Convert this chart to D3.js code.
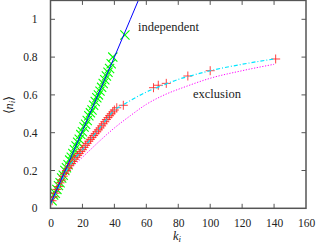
<!DOCTYPE html>
<html><head><meta charset="utf-8">
<script src="https://cdn.jsdelivr.net/npm/d3@7"></script>
<style>body{margin:0;background:#fff}svg{display:block}</style>
</head><body>
<script>
const xTicks=[0,20,40,60,80,100,120,140,160];
const yTicks=[0,0.2,0.4,0.6,0.8,1];
const blueK=[0,10,20,30,40,50,57];
const blueN=[0.025,0.215,0.41,0.605,0.80,1.0,1.14];
const greenK=[1,2,3,4,5,6,7,8,9,10,11,12,13,14,15,16,17,18,19,20,21,22,23,24,25,26,27,28,29,30,31,32,33,34,35,36,37,38,39,46.6];
const greenN=[0.04,0.07,0.08,0.10,0.12,0.135,0.16,0.175,0.20,0.215,0.23,0.255,0.27,0.29,0.31,0.33,0.35,0.365,0.39,0.405,0.43,0.445,0.465,0.49,0.505,0.52,0.545,0.565,0.585,0.60,0.62,0.64,0.66,0.68,0.70,0.72,0.74,0.765,0.80,0.917];
const redK=[1,2,3,4,5,6,7,8,9,10,11,12,13,14,15,16,17,18,19,20,21,22,23,24,25,26,27,28,29,30,31,32,33,34,35,36,37,38,39,40,41.5,45.6,64.5,67.5,72.5,86,100,141];
const redN=[0.04,0.06,0.08,0.10,0.115,0.135,0.15,0.17,0.185,0.20,0.212,0.225,0.237,0.248,0.26,0.27,0.28,0.29,0.30,0.31,0.322,0.333,0.344,0.355,0.365,0.375,0.385,0.395,0.405,0.415,0.425,0.436,0.447,0.458,0.47,0.48,0.49,0.5,0.51,0.52,0.532,0.545,0.638,0.651,0.661,0.70,0.728,0.79];
const cyanK=[0,5,10,15,20,25,30,35,40,45,50,60,70,80,90,100,120,140];
const cyanN=[0.02,0.11,0.2,0.26,0.31,0.365,0.415,0.47,0.52,0.545,0.57,0.615,0.65,0.682,0.706,0.728,0.762,0.79];
const magK=[0,10,20,25,30,40,50,60,70,85,100,120,140];
const magN=[0.02,0.18,0.27,0.31,0.35,0.425,0.49,0.55,0.595,0.645,0.688,0.728,0.762];

const W=316,H=251;
const L=50.5,R=306,T=0.4,B=208.3;
const FF="Liberation Serif, Times New Roman, Times, serif";
const svg=d3.select("body").append("svg").attr("width",W).attr("height",H).style("font-family",FF);
const x=d3.scaleLinear().domain([0,160]).range([L,R]);
const y=d3.scaleLinear().domain([0,1.1]).range([B,T]);
svg.append("clipPath").attr("id","c").append("rect").attr("x",L).attr("y",T).attr("width",R-L).attr("height",B-T);
const g=svg.append("g").attr("clip-path","url(#c)");
const line=d3.line().x(d=>x(d[0])).y(d=>y(d[1]));
const sline=d3.line().curve(d3.curveMonotoneX).x(d=>x(d[0])).y(d=>y(d[1]));
g.append("path").attr("d",sline(d3.zip(magK,magN))).attr("fill","none").attr("stroke","#ff00ff").attr("stroke-width",1).attr("stroke-dasharray","1.2,1.6");
const gs=4.6;
greenK.forEach((k,i)=>{const cx=x(k),cy=y(greenN[i]);
 g.append("path").attr("d",`M${cx-gs},${cy-gs}L${cx+gs},${cy+gs}M${cx-gs},${cy+gs}L${cx+gs},${cy-gs}`).attr("stroke","#00ff00").attr("stroke-width",1.1).attr("fill","none");});
const rs=4.5;
redK.forEach((k,i)=>{const cx=x(k),cy=y(redN[i]);
 g.append("path").attr("d",`M${cx-rs},${cy}L${cx+rs},${cy}M${cx},${cy-rs}L${cx},${cy+rs}`).attr("stroke","#ff2020").attr("stroke-width",1).attr("stroke-opacity",0.85).attr("fill","none");});
g.append("path").attr("d",sline(d3.zip(cyanK,cyanN))).attr("fill","none").attr("stroke","#00e5ff").attr("stroke-width",1.2).attr("stroke-dasharray","4,2,1,2");
g.append("path").attr("d",line(d3.zip(blueK,blueN))).attr("fill","none").attr("stroke","#0000ff").attr("stroke-width",1);
svg.append("rect").attr("x",L).attr("y",T).attr("width",R-L).attr("height",B-T).attr("fill","none").attr("stroke","#555").attr("stroke-width",1.5);
const tl=4.5;
xTicks.slice(1,-1).forEach(t=>{svg.append("line").attr("x1",x(t)).attr("x2",x(t)).attr("y1",B).attr("y2",B-tl).attr("stroke","#555");
 svg.append("line").attr("x1",x(t)).attr("x2",x(t)).attr("y1",T).attr("y2",T+tl).attr("stroke","#555");});
yTicks.slice(1).forEach(t=>{svg.append("line").attr("y1",y(t)).attr("y2",y(t)).attr("x1",L).attr("x2",L+tl).attr("stroke","#555");
 svg.append("line").attr("y1",y(t)).attr("y2",y(t)).attr("x1",R).attr("x2",R-tl).attr("stroke","#555");});
const ax=d3.axisBottom(x).tickValues(xTicks).tickSize(0).tickFormat(d3.format("d"));
const xa=svg.append("g").attr("transform",`translate(0,${B})`).call(ax).attr("font-family",null).attr("font-size",null);
xa.select(".domain").remove();
xa.selectAll("text").attr("dy",null).attr("y",19).attr("fill","#222").style("font-family",FF).style("font-size","11.5px");
const ay=d3.axisLeft(y).tickValues(yTicks).tickSize(0).tickFormat(d=>d===0?"0":d===1?"1":d3.format(".1f")(d));
const ya=svg.append("g").attr("transform",`translate(${L},0)`).call(ay).attr("font-family",null).attr("font-size",null);
ya.select(".domain").remove();
ya.selectAll("text").attr("x",-13).attr("fill","#222").style("font-family",FF).style("font-size","11.5px");
const lab=(s)=>s.style("font-family",FF).style("font-size","12.5px").attr("fill","#222");
lab(svg.append("text").attr("x",138).attr("y",31).text("independent"));
lab(svg.append("text").attr("x",193).attr("y",98).text("exclusion"));
const xl=lab(svg.append("text").attr("x",177).attr("y",240).attr("text-anchor","middle"));
xl.append("tspan").style("font-style","italic").text("k");
xl.append("tspan").style("font-style","italic").style("font-size","9px").attr("dy",2).text("i");
const yl=lab(svg.append("text").attr("transform","translate(13,105) rotate(-90)").attr("text-anchor","middle"));
yl.append("tspan").text("⟨");
yl.append("tspan").style("font-style","italic").text("n");
yl.append("tspan").style("font-style","italic").style("font-size","9px").attr("dy",2).text("i");
yl.append("tspan").attr("dy",-2).text("⟩");
</script>
</body></html>
